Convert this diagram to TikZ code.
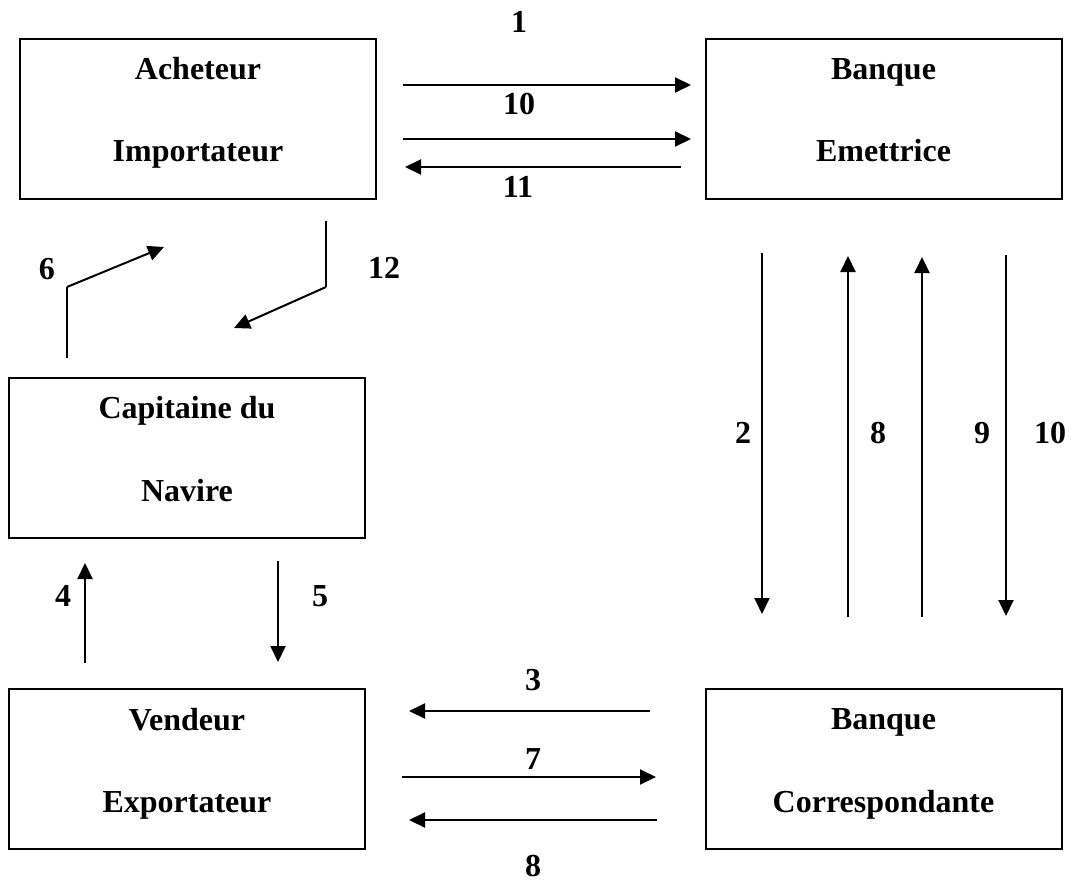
\documentclass[tikz,border=0pt]{standalone}
\usepackage{fontspec}
\setmainfont{Liberation Serif}
\usetikzlibrary{arrows.meta}
\begin{document}
\begin{tikzpicture}[x=0.5pt,y=-0.5pt,
  party/.style={draw, line width=1pt, minimum width=178pt, minimum height=80pt, inner sep=0pt},
  txt/.style={anchor=base, inner sep=0pt, font=\bfseries\fontsize{16}{19}\selectfont},
  num/.style={inner sep=0pt, font=\bfseries\fontsize{16}{19}\selectfont},
  flow/.style={line width=1pt, -{Triangle[length=8pt,width=7.5pt]}},
  thinflow/.style={line width=0.65pt},
]
\useasboundingbox (0,0) rectangle (1081,883);

% the five parties
\node[party] (acheteur) at (198,119) {};
\node[party] (emettrice) at (883.5,119) {};
\node[party] (capitaine) at (187,458) {};
\node[party] (vendeur) at (187,769) {};
\node[party] (correspondante) at (883.5,769) {};

\node[txt] (acheteur1) at (198,80) {Acheteur};
\node[txt] (acheteur2) at (198,162) {Importateur};
\node[txt] (emettrice1) at (883.5,80) {Banque};
\node[txt] (emettrice2) at (883.5,162) {Emettrice};
\node[txt] (capitaine1) at (187,418) {Capitaine du};
\node[txt] (capitaine2) at (187,501) {Navire};
\node[txt] (vendeur1) at (187,730) {Vendeur};
\node[txt] (vendeur2) at (187,812) {Exportateur};
\node[txt] (correspondante1) at (883.5,729) {Banque};
\node[txt] (correspondante2) at (883.5,812) {Correspondante};

% end points of the flows
\coordinate (f1s) at (403,85);   \coordinate (f1e) at (691,85);
\coordinate (f10s) at (403,139); \coordinate (f10e) at (691,139);
\coordinate (f11s) at (681,167); \coordinate (f11e) at (405,167);
\coordinate (f6s) at (67,358);   \coordinate (f6m) at (67,287);   \coordinate (f6e) at (164,247);
\coordinate (f12s) at (326,221); \coordinate (f12m) at (326,287); \coordinate (f12e) at (234,328);
\coordinate (f4s) at (85,663);   \coordinate (f4e) at (85,563);
\coordinate (f5s) at (278,561);  \coordinate (f5e) at (278,662);
\coordinate (f2s) at (762,253);  \coordinate (f2e) at (762,614);
\coordinate (f8us) at (848,617); \coordinate (f8ue) at (848,256);
\coordinate (f9s) at (922,617);  \coordinate (f9e) at (922,257);
\coordinate (f10ds) at (1006,255); \coordinate (f10de) at (1006,616);
\coordinate (f3s) at (650,711);  \coordinate (f3e) at (409,711);
\coordinate (f7s) at (402,777);  \coordinate (f7e) at (656,777);
\coordinate (f8s) at (657,820);  \coordinate (f8e) at (409,820);

% flows
\draw[flow] (f1s) -- (f1e);
\draw[flow] (f10s) -- (f10e);
\draw[flow] (f11s) -- (f11e);
\draw[thinflow] (f6s) -- (f6m);
\draw[flow] (f6m) -- (f6e);
\draw[thinflow] (f12s) -- (f12m);
\draw[flow] (f12m) -- (f12e);
\draw[flow] (f4s) -- (f4e);
\draw[flow] (f5s) -- (f5e);
\draw[flow] (f2s) -- (f2e);
\draw[flow] (f8us) -- (f8ue);
\draw[flow] (f9s) -- (f9e);
\draw[flow] (f10ds) -- (f10de);
\draw[flow] (f3s) -- (f3e);
\draw[flow] (f7s) -- (f7e);
\draw[flow] (f8s) -- (f8e);

% step numbers
\node[num] (n1) at (519,22) {1};
\node[num] (n10a) at (519,104) {10};
\node[num] (n11) at (518,187) {11};
\node[num] (n6) at (47,269) {6};
\node[num] (n12) at (384,268) {12};
\node[num] (n4) at (63,596) {4};
\node[num] (n5) at (320,596) {5};
\node[num] (n2) at (743,433) {2};
\node[num] (n8a) at (878,433) {8};
\node[num] (n9) at (982,433) {9};
\node[num] (n10b) at (1050,433) {10};
\node[num] (n3) at (533,680) {3};
\node[num] (n7) at (533,759) {7};
\node[num] (n8b) at (533,866) {8};
\end{tikzpicture}
\end{document}
